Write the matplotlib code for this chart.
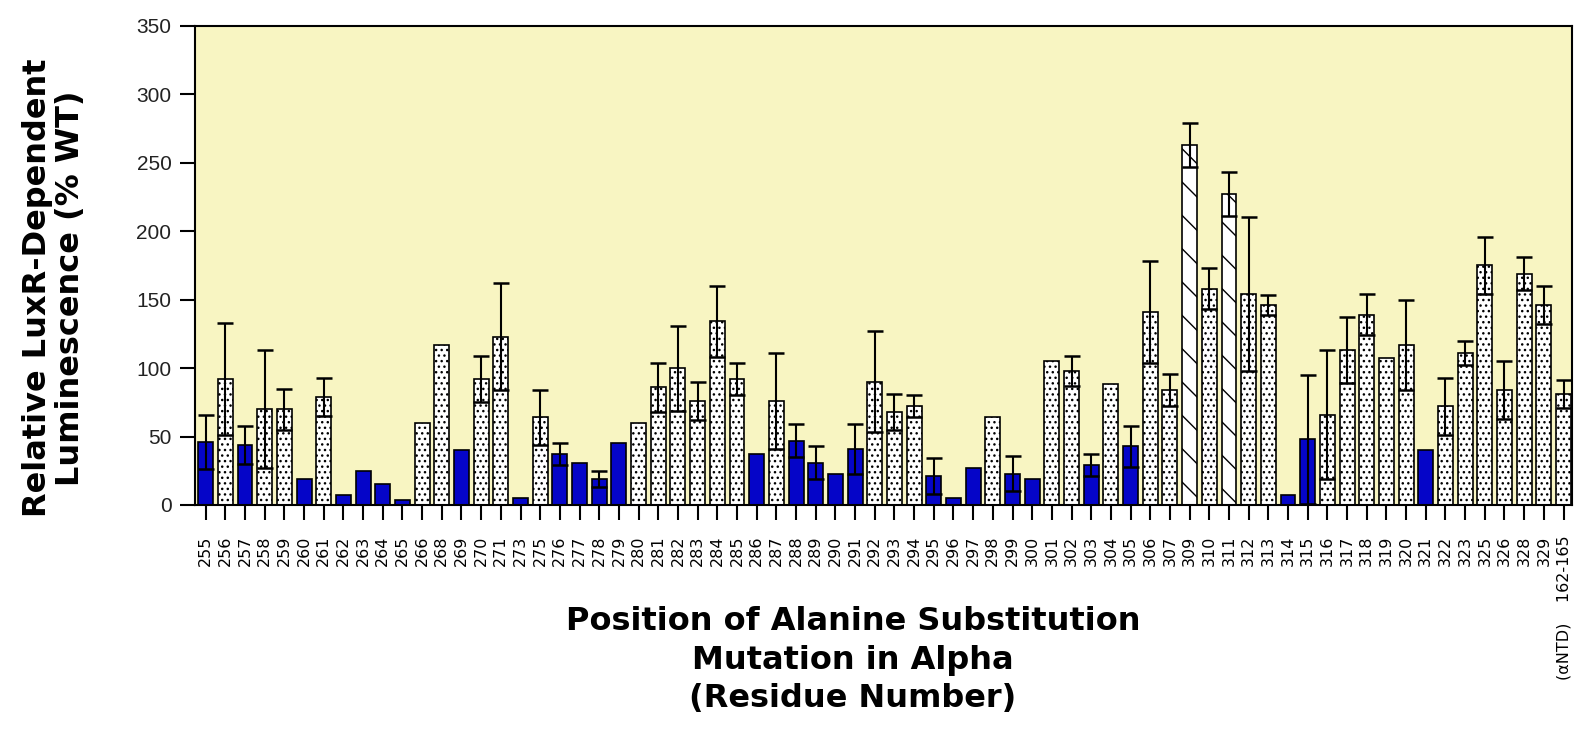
import numpy as np
import matplotlib
matplotlib.use("Agg")
from matplotlib import pyplot as plt

# residue positions (x tick labels)
residues = ['255', '256', '257', '258', '259', '260', '261', '262', '263', '264',
            '265', '266', '268', '269', '270', '271', '273', '275', '276', '277',
            '278', '279', '280', '281', '282', '283', '284', '285', '286', '287',
            '288', '289', '290', '291', '292', '293', '294', '295', '296', '297',
            '298', '299', '300', '301', '302', '303', '304', '305', '306', '307',
            '309', '310', '311', '312', '313', '314', '315', '316', '317', '318',
            '319', '320', '321', '322', '323', '325', '326', '328', '329',
            '(\u03b1NTD)    162-165']

# relative luminescence (% WT)
values = [46, 92, 44, 70, 70, 19, 79, 7, 25, 15,
          3.5, 60, 117, 40, 92, 123, 5, 64, 37, 31,
          19, 45, 60, 86, 100, 76, 134, 92, 37, 76,
          47, 31, 23, 41, 90, 68, 72, 21, 5, 27,
          64, 23, 19, 105, 98, 29, 88, 43, 141, 84,
          263, 158, 227, 154, 146, 7, 48, 66, 113, 139,
          107, 117, 40, 72, 111, 175, 84, 169, 146, 81]

# error (0 = no error bar drawn)
errors = [20, 41, 14, 43, 15, 0, 14, 0, 0, 0,
          0, 0, 0, 0, 17, 39, 0, 20, 8, 0,
          6, 0, 0, 18, 31, 14, 26, 12, 0, 35,
          12, 12, 0, 18, 37, 13, 8, 13, 0, 0,
          0, 13, 0, 0, 11, 8, 0, 15, 37, 12,
          16, 15, 16, 56, 7, 0, 47, 47, 24, 15,
          0, 33, 0, 21, 9, 21, 21, 12, 14, 10]

# fill style: b = solid blue, d = dotted, h = diagonal hatch
styles = ['b', 'd', 'b', 'd', 'd', 'b', 'd', 'b', 'b', 'b',
          'b', 'd', 'd', 'b', 'd', 'd', 'b', 'd', 'b', 'b',
          'b', 'b', 'd', 'd', 'd', 'd', 'd', 'd', 'b', 'd',
          'b', 'b', 'b', 'b', 'd', 'd', 'd', 'b', 'b', 'b',
          'd', 'b', 'b', 'd', 'd', 'b', 'd', 'b', 'd', 'd',
          'h', 'd', 'h', 'd', 'd', 'b', 'b', 'd', 'd', 'd',
          'd', 'd', 'b', 'd', 'd', 'd', 'd', 'd', 'd', 'd']

plt.rcParams['hatch.linewidth'] = 1.0

fig = plt.figure(figsize=(15.79, 7.5), dpi=100)
ax = fig.add_axes([195 / 1579, 245 / 750, (1572 - 195) / 1579, (505 - 25.7) / 750])
ax.set_facecolor('#F8F5C2')

x = np.arange(len(residues))
vals = np.array(values, dtype=float)
errs = np.array(errors, dtype=float)

for i in range(len(x)):
    s = styles[i]
    if s == 'b':
        ax.bar(x[i], vals[i], width=0.76, color='#0505C8', edgecolor='black', linewidth=1.2, zorder=2)
    elif s == 'd':
        ax.bar(x[i], vals[i], width=0.76, color='white', edgecolor='black', hatch='...', linewidth=1.2, zorder=2)
    else:
        ax.bar(x[i], vals[i], width=0.76, color='white', edgecolor='black', hatch='\\', linewidth=1.2, zorder=2)

m = errs > 0
ax.errorbar(x[m], vals[m], yerr=errs[m], fmt='none', ecolor='black', elinewidth=1.5,
            capsize=6, capthick=1.8, zorder=3)

ax.set_xlim(-0.54, len(x) - 0.57)
ax.set_ylim(0, 350)
ax.set_yticks(np.arange(0, 351, 50))
ax.set_yticklabels([str(v) for v in range(0, 351, 50)], fontsize=15,
                   family='Liberation Sans', color='#222222')
ax.set_xticks(x)
ax.set_xticklabels(residues, rotation=90, fontsize=11.5, va='top')
ax.tick_params(axis='y', direction='out', length=11, width=1.5, pad=6)
ax.tick_params(axis='x', direction='out', length=11, width=1.5, pad=11)

for sp in ax.spines.values():
    sp.set_linewidth(1.5)
    sp.set_color('black')

fig.text(54 / 1579, 1 - 288 / 750, 'Relative LuxR-Dependent\nLuminescence (% WT)',
         rotation=90, ha='center', va='center', fontsize=23, fontweight='bold',
         family='DejaVu Sans', linespacing=1.05, multialignment='center')
fig.text(853 / 1579, 1 - 660 / 750, 'Position of Alanine Substitution\nMutation in Alpha\n(Residue Number)',
         ha='center', va='center', fontsize=23, fontweight='bold',
         family='DejaVu Sans', linespacing=1.31, multialignment='center')

fig.savefig('out.png', dpi=100)
